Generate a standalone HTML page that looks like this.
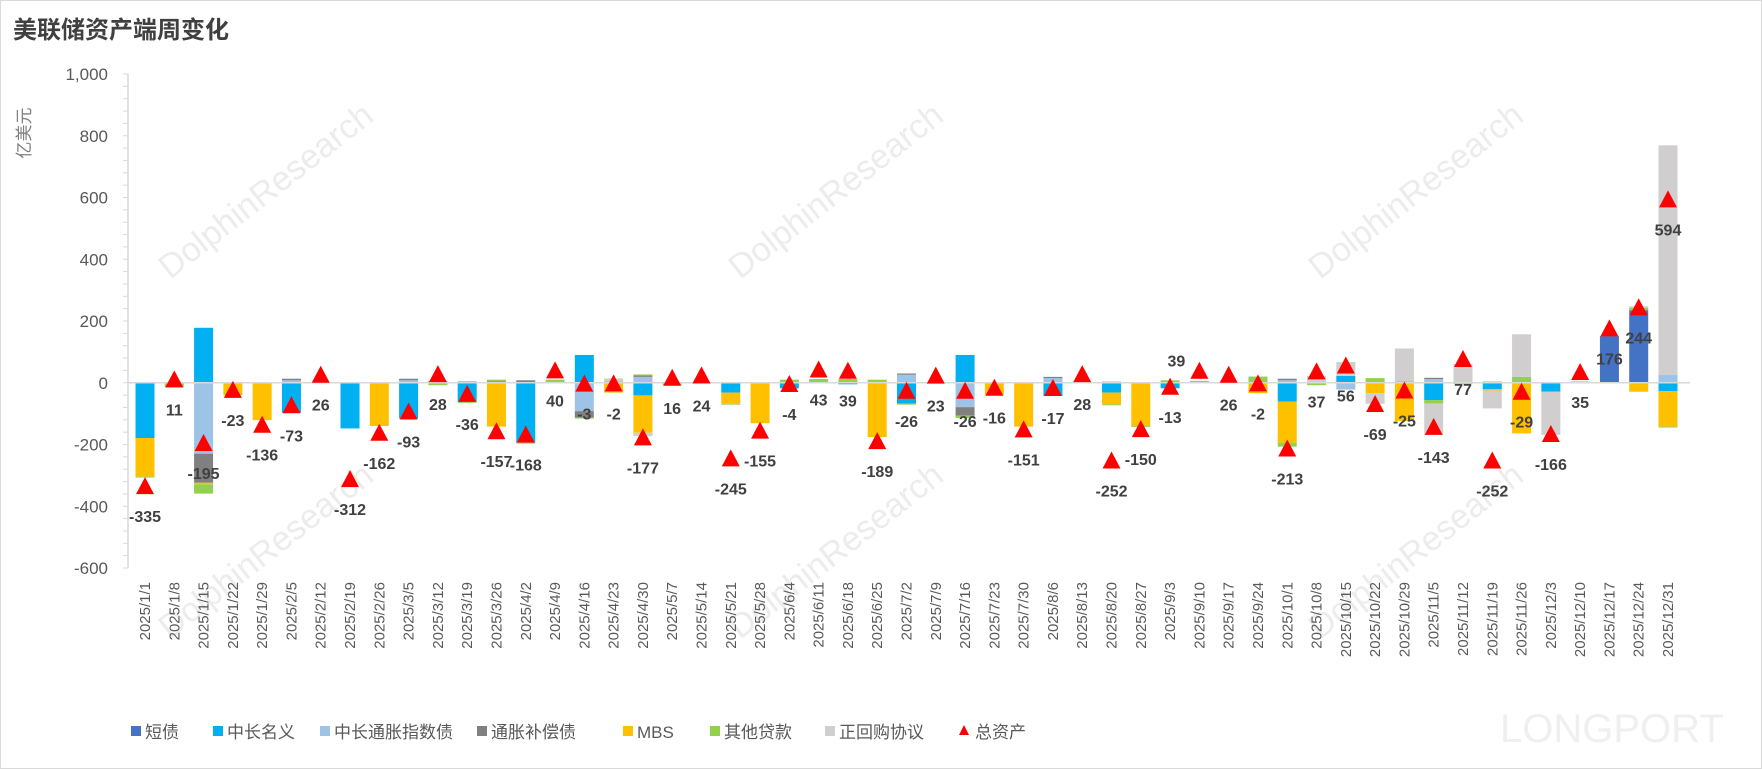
<!DOCTYPE html>
<html><head><meta charset="utf-8"><style>
html,body{margin:0;padding:0;background:#fff}
svg{display:block;font-family:"Liberation Sans","Noto Sans CJK SC",sans-serif}
</style></head><body>
<svg id="chart" width="1762" height="769" viewBox="0 0 1762 769" xmlns="http://www.w3.org/2000/svg">
<rect x="0.5" y="0.5" width="1761" height="768" fill="#fff" stroke="#d9d9d9"/>
<g fill="#ececec" font-size="34">
<text transform="translate(170,280) rotate(-38)">DolphinResearch</text>
<text transform="translate(740,280) rotate(-38)">DolphinResearch</text>
<text transform="translate(1320,280) rotate(-38)">DolphinResearch</text>
<text transform="translate(170,640) rotate(-38)">DolphinResearch</text>
<text transform="translate(740,640) rotate(-38)">DolphinResearch</text>
<text transform="translate(1320,640) rotate(-38)">DolphinResearch</text>
<text x="1500" y="742" font-size="40" fill="#efefef">LONGPORT</text>
</g>
<text x="13" y="38" font-size="24" font-weight="bold" fill="#404040">美联储资产端周变化</text>
<text transform="translate(30,133) rotate(-90)" text-anchor="middle" font-size="17" fill="#7f7f7f">亿美元</text>
<g id="yaxis"></g>
<g id="bars"></g>
<g id="totals"></g>
<g id="xaxis"></g>
<g id="legend"></g>
</svg>
<script>
const categories=["2025/1/1","2025/1/8","2025/1/15","2025/1/22","2025/1/29","2025/2/5","2025/2/12","2025/2/19","2025/2/26","2025/3/5","2025/3/12","2025/3/19","2025/3/26","2025/4/2","2025/4/9","2025/4/16","2025/4/23","2025/4/30","2025/5/7","2025/5/14","2025/5/21","2025/5/28","2025/6/4","2025/6/11","2025/6/18","2025/6/25","2025/7/2","2025/7/9","2025/7/16","2025/7/23","2025/7/30","2025/8/6","2025/8/13","2025/8/20","2025/8/27","2025/9/3","2025/9/10","2025/9/17","2025/9/24","2025/10/1","2025/10/8","2025/10/15","2025/10/22","2025/10/29","2025/11/5","2025/11/12","2025/11/19","2025/11/26","2025/12/3","2025/12/10","2025/12/17","2025/12/24","2025/12/31"];
const shortBills=[0,0,0,0,0,0,0,0,0,0, 0,0,0,0,0,0,0,0,0,0, 0,0,0,0,0,0,0,0,0,0, 0,0,0,0,0,0,0,0,0,0, 0,0,0,0,0,0,0,0,0,0, 151,235,0];
const nominal=[-179,0,178,0,0,-97,0,-148,0,-116, 0,-61,0,-194,0,90,0,-41,0,0, -32,0,-18,0,-5,0,-67,0,90,0, 0,-43,0,-32,0,-18,0,0,0,-61, 0,22,0,0,-56,0,-21,0,-29,0, 0,0,-27];
const tips=[0,0,-230,0,0,8,0,0,0,8, 0,0,0,0,0,-92,0,19,0,0, 0,0,0,0,0,0,26,0,-79,0, 0,15,0,0,0,0,0,0,0,8, 0,-22,0,0,12,0,0,0,0,0, 0,0,25];
const inflComp=[0,0,-94,0,0,5,0,0,0,5, 5,4,5,8,0,-21,0,5,0,0, 0,0,0,0,0,0,4,0,-27,0, 0,4,0,0,0,0,0,0,0,5, 0,0,0,0,4,0,0,0,0,0, 0,0,0];
const mbs=[-125,0,-5,-38,-121,0,0,0,-140,0, 0,0,-142,0,0,0,-32,-121,0,0, -36,-131,0,0,0,-176,0,0,0,-40, -142,0,0,-38,-140,0,0,0,-34,-133, 0,0,-34,-124,0,0,-4,-164,0,0, 0,-29,-115];
const otherLoans=[-3,-15,-30,-3,0,0,0,0,0,0, -8,-4,5,-3,10,-3,4,3,-8,-3, -3,0,10,12,12,10,-4,0,-8,0, 0,0,0,-3,-3,8,6,0,20,-13, -8,0,15,5,-11,-4,4,19,0,4, 0,8,-3];
const repo=[0,0,0,0,0,0,0,0,0,0, 0,0,0,0,0,0,10,-11,0,0, 0,0,0,0,0,0,0,0,0,0, 0,0,0,5,0,0,0,0,0,0, 22,45,-34,106,-101,61,-58,138,-140,0, 0,5,744];
const totalAssets=[-335,11,-195,-23,-136,-73,26,-312,-162,-93,28,-36,-157,-168,40,-3,-2,-177,16,24,-245,-155,-4,43,39,-189,-26,23,-26,-16,-151,-17,28,-252,-150,-13,39,26,-2,-213,37,56,-69,-25,-143,77,-252,-29,-166,35,176,244,594];
const yTicks=[1000,800,600,400,200,0,-200,-400,-600];
const seriesNames=["短债","中长名义","中长通胀指数债","通胀补偿债","MBS","其他贷款","正回购协议"];

const NS="http://www.w3.org/2000/svg";
const series=[shortBills,nominal,tips,inflComp,mbs,otherLoans,repo];
const colors=["#4472c4","#00b0f0","#9dc3e6","#808080","#ffc000","#92d050","#d0cece"];
const slugs=["short-bills","nominal-notes","tips","inflation-compensation","mbs","other-loans","repo"];
const yMin=-600,yMax=1000,plotTop=74,plotBottom=568,plotLeft=128,plotRight=1690;
const x0=145,step=(1668-145)/(categories.length-1),bw=19;
function yPos(v){return plotTop+(yMax-v)/(yMax-yMin)*(plotBottom-plotTop);}
function xPos(i){return x0+i*step;}
function mk(tag,attrs,parent){const e=document.createElementNS(NS,tag);for(const k in attrs)e.setAttribute(k,attrs[k]);parent.appendChild(e);return e;}
const gy=document.getElementById('yaxis');
const yl=mk('line',{x1:plotLeft,y1:plotTop,x2:plotLeft,y2:plotBottom,stroke:'#d9d9d9','stroke-width':1.5},gy);


for(let v=yMin;v<=yMax;v+=40){
  const t=mk('line',{x1:plotLeft-5,y1:yPos(v),x2:plotLeft,y2:yPos(v),stroke:'#d9d9d9'},gy);
  
  
}
yTicks.forEach(v=>{
  const t=mk('text',{x:108,y:yPos(v)+6,'text-anchor':'end','font-size':17,fill:'#595959'},gy);
  t.textContent=v.toLocaleString('en-US');
  
  
});
const gb=document.getElementById('bars');
categories.forEach((c,i)=>{
  let pos=0,neg=0;
  series.forEach((s,k)=>{
    const v=s[i]; if(!v) return;
    let a,b;
    if(v>0){a=pos;b=pos+v;pos=b;}else{a=neg;b=neg+v;neg=b;}
    const r=mk('rect',{x:xPos(i)-bw/2,y:Math.min(yPos(a),yPos(b)),width:bw,height:Math.abs(yPos(a)-yPos(b)),fill:colors[k]},gb);
    
    
  });
});
const zl=mk('line',{x1:plotLeft,y1:yPos(0),x2:plotRight,y2:yPos(0),stroke:'#d9d9d9','stroke-width':1.5},gb);


const gt=document.getElementById('totals');
totalAssets.forEach((v,i)=>{
  const cx=xPos(i),cy=yPos(v);
  const p=mk('polygon',{points:`${cx},${cy-9} ${cx+9},${cy+8} ${cx-9},${cy+8}`,fill:'#ff0000'},gt);
  
  
  let dx=0,dy=36;
  if(categories[i]==="2025/9/10"){dx=-23;dy=-4;}
  const t=mk('text',{x:cx+dx,y:cy+dy,'text-anchor':'middle','font-size':16,'font-weight':'bold',fill:'#404040'},gt);
  t.textContent=v;
  
  
});
const gx=document.getElementById('xaxis');
categories.forEach((c,i)=>{
  const t=mk('text',{transform:`translate(${xPos(i)+5},582) rotate(-90)`,'text-anchor':'end','font-size':15,fill:'#595959'},gx);
  t.textContent=c;
  
  
});
const gl=document.getElementById('legend');
const lx=[136,218,325,482,628,715,830];
seriesNames.forEach((n,k)=>{
  const r=mk('rect',{x:lx[k]-5,y:726,width:10,height:10,fill:colors[k]},gl);
  
  
  const t=mk('text',{x:lx[k]+9,y:738,'font-size':17,fill:'#595959'},gl);
  t.textContent=n;
  
  
});
const tp=mk('polygon',{points:'964,725 969,735 959,735',fill:'#ff0000'},gl);


const tt=mk('text',{x:975,y:738,'font-size':17,fill:'#595959'},gl);
tt.textContent='总资产';


</script>
</body></html>
